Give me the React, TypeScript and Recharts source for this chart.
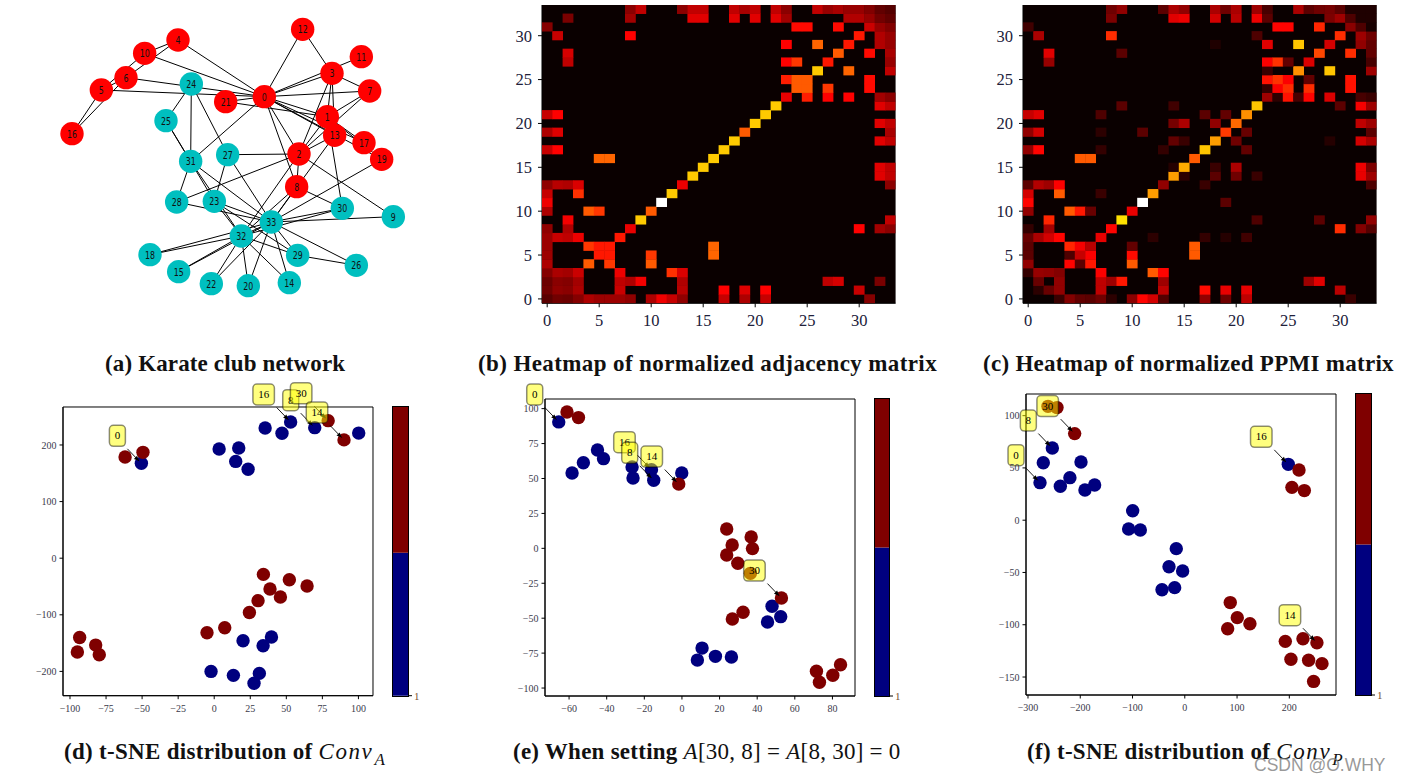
import React from "react";
import { ScatterChart, Scatter, BarChart, Bar, XAxis, YAxis, ReferenceArea } from "recharts";

const SERIF = "'Liberation Serif', serif";
const MAROON = "#7f0000";
const NAVY = "#00007f";

// ---- (a) karate club layout, node index = array index
const nodeX = [673, 862, 777, 876, 414, 184, 258, 989, 770, 1060, 314, 964, 788, 884, 748, 416, 96, 972, 330, 1025, 625, 557, 514, 523, 454, 378, 949, 563, 410, 773, 907, 452, 604, 694];
const nodeY = [290, 350, 462, 220, 120, 270, 233, 273, 560, 650, 160, 170, 88, 406, 848, 815, 401, 428, 764, 478, 857, 305, 851, 604, 252, 362, 796, 464, 606, 766, 625, 484, 708, 666];
const redNodes = [0, 1, 2, 3, 4, 5, 6, 7, 8, 10, 11, 12, 13, 16, 17, 19, 21];
const edgeList: [number, number][] = [
  [0, 1], [0, 2], [0, 3], [0, 4], [0, 5], [0, 6], [0, 7], [0, 8], [0, 10], [0, 11], [0, 12], [0, 13], [0, 17], [0, 19], [0, 21], [0, 31],
  [1, 2], [1, 3], [1, 7], [1, 13], [1, 17], [1, 19], [1, 21], [1, 30],
  [2, 3], [2, 7], [2, 8], [2, 9], [2, 13], [2, 27], [2, 28], [2, 32],
  [3, 7], [3, 12], [3, 13], [4, 6], [4, 10], [5, 6], [5, 10], [5, 16], [6, 16],
  [8, 30], [8, 32], [8, 33], [9, 33], [13, 33], [14, 32], [14, 33], [15, 32], [15, 33],
  [18, 32], [18, 33], [19, 33], [20, 32], [20, 33], [22, 32], [22, 33],
  [23, 25], [23, 27], [23, 29], [23, 32], [23, 33], [24, 25], [24, 27], [24, 31], [25, 31],
  [26, 29], [26, 33], [27, 33], [28, 31], [28, 33], [29, 32], [29, 33], [30, 32], [30, 33], [31, 32], [31, 33], [32, 33],
];

// ---- (b) normalized adjacency, one list per row: [column, value]
type Row = [number, number][];
const adjacencyRows: Row[] = [
  [[0, .118], [1, .153], [2, .146], [3, .183], [4, .243], [5, .217], [6, .217], [7, .217], [8, .198], [10, .243], [11, .343], [12, .28], [13, .198], [17, .28], [19, .243], [21, .28], [31, .183]],
  [[0, .153], [1, .2], [2, .191], [3, .239], [7, .283], [13, .258], [17, .365], [19, .316], [21, .365], [30, .283]],
  [[0, .146], [1, .191], [2, .182], [3, .228], [7, .27], [8, .246], [9, .348], [13, .246], [27, .27], [28, .302], [32, .167]],
  [[0, .183], [1, .239], [2, .228], [3, .286], [7, .338], [12, .436], [13, .309]],
  [[0, .243], [4, .5], [6, .447], [10, .5]],
  [[0, .217], [5, .4], [6, .4], [10, .447], [16, .516]],
  [[0, .217], [4, .447], [5, .4], [6, .4], [16, .516]],
  [[0, .217], [1, .283], [2, .27], [3, .338], [7, .4]],
  [[0, .198], [2, .246], [8, .333], [30, .365], [32, .226], [33, .192]],
  [[2, .348], [9, .667], [33, .272]],
  [[0, .243], [4, .5], [5, .447], [10, .5]],
  [[0, .343], [11, 1]],
  [[0, .28], [3, .436], [12, .667]],
  [[0, .198], [1, .258], [2, .246], [3, .309], [13, .333], [33, .192]],
  [[14, .667], [32, .32], [33, .272]],
  [[15, .667], [32, .32], [33, .272]],
  [[5, .516], [6, .516], [16, .667]],
  [[0, .28], [1, .365], [17, .667]],
  [[18, .667], [32, .32], [33, .272]],
  [[0, .243], [1, .316], [19, .5], [33, .236]],
  [[20, .667], [32, .32], [33, .272]],
  [[0, .28], [1, .365], [21, .667]],
  [[22, .667], [32, .32], [33, .272]],
  [[23, .333], [25, .408], [27, .365], [29, .365], [32, .226], [33, .192]],
  [[24, .5], [25, .5], [27, .447], [31, .378]],
  [[23, .408], [24, .5], [25, .5], [31, .378]],
  [[26, .667], [29, .516], [33, .272]],
  [[2, .27], [23, .365], [24, .447], [27, .4], [33, .211]],
  [[2, .302], [28, .5], [31, .378], [33, .236]],
  [[23, .365], [26, .516], [29, .4], [32, .248], [33, .211]],
  [[1, .283], [8, .365], [30, .4], [32, .248], [33, .211]],
  [[0, .183], [24, .378], [25, .378], [28, .378], [31, .286], [32, .21], [33, .178]],
  [[2, .167], [8, .226], [14, .32], [15, .32], [18, .32], [20, .32], [22, .32], [23, .226], [29, .248], [30, .248], [31, .21], [32, .154], [33, .131]],
  [[8, .192], [9, .272], [13, .192], [14, .272], [15, .272], [18, .272], [19, .236], [20, .272], [22, .272], [23, .192], [26, .272], [27, .211], [28, .236], [29, .211], [30, .211], [31, .178], [32, .131], [33, .111]],
];

// ---- (c) normalized PPMI
const ppmiRows: Row[] = [
  [[3, .07], [4, .18], [5, .13], [6, .12], [7, .15], [8, .05], [10, .19], [11, .37], [12, .3], [13, .11], [17, .2], [19, .15], [21, .27], [31, .07]],
  [[1, .05], [2, .14], [3, .2], [7, .27], [13, .27], [17, .38], [19, .33], [21, .33], [30, .26]],
  [[1, .14], [3, .2], [7, .27], [8, .22], [9, .4], [13, .22], [27, .22], [28, .32]],
  [[0, .06], [1, .21], [2, .2], [3, .18], [7, .36], [12, .5], [13, .37]],
  [[0, .2], [4, .37], [5, .12], [6, .4], [10, .5]],
  [[0, .12], [4, .1], [5, .28], [6, .36], [10, .38], [16, .5]],
  [[0, .12], [4, .42], [5, .35], [6, .26], [10, .13], [16, .5]],
  [[0, .14], [1, .24], [2, .3], [3, .37], [7, .33], [12, .05], [17, .06], [19, .04], [21, .08]],
  [[0, .06], [2, .23], [8, .37], [30, .43], [32, .18], [33, .11]],
  [[2, .42], [9, .7], [22, .1], [28, .12], [33, .2]],
  [[0, .2], [4, .5], [5, .4], [6, .14], [10, .33]],
  [[0, .37], [11, 1], [19, .12]],
  [[0, .3], [3, .5], [7, .07], [12, .6]],
  [[0, .12], [1, .25], [2, .22], [3, .36], [13, .2], [17, .07], [33, .1]],
  [[14, .6], [15, .05], [18, .12], [20, .15], [22, .07], [32, .33], [33, .22]],
  [[14, .04], [15, .62], [18, .07], [20, .24], [32, .34], [33, .17]],
  [[5, .5], [6, .5], [16, .5]],
  [[0, .2], [1, .37], [7, .06], [13, .06], [17, .66], [21, .13]],
  [[14, .13], [15, .07], [18, .6], [20, .15], [29, .04], [32, .3], [33, .24]],
  [[0, .2], [1, .3], [7, .05], [11, .12], [19, .45], [21, .14], [33, .12]],
  [[14, .16], [15, .24], [18, .2], [20, .52], [32, .27], [33, .22]],
  [[0, .28], [1, .32], [7, .1], [17, .12], [19, .13], [21, .58]],
  [[9, .12], [14, .08], [22, .66], [30, .12], [32, .35], [33, .22]],
  [[23, .22], [24, .05], [25, .39], [26, .09], [27, .37], [29, .31], [32, .09], [33, .07]],
  [[23, .06], [24, .36], [25, .43], [27, .43], [31, .39]],
  [[23, .39], [24, .44], [25, .36], [27, .13], [31, .39]],
  [[23, .07], [26, .58], [29, .66], [33, .22]],
  [[2, .21], [23, .36], [24, .44], [25, .13], [27, .31], [33, .09]],
  [[2, .32], [9, .12], [28, .47], [31, .43], [33, .13]],
  [[18, .03], [23, .32], [26, .66], [29, .3], [32, .2], [33, .13]],
  [[1, .24], [8, .43], [22, .1], [30, .43], [32, .22], [33, .15]],
  [[0, .08], [24, .37], [25, .37], [28, .42], [31, .19], [32, .1], [33, .02]],
  [[8, .17], [14, .32], [15, .34], [18, .3], [20, .26], [22, .34], [23, .12], [29, .17], [30, .22], [31, .1], [32, .03], [33, .03]],
  [[8, .15], [9, .2], [13, .12], [14, .24], [15, .2], [18, .24], [19, .15], [20, .24], [22, .22], [23, .09], [26, .24], [27, .12], [28, .15], [29, .16], [30, .12], [31, .03], [32, .03], [33, .03]],
];
const heatTicks = [0, 5, 10, 15, 20, 25, 30];

// ---- t-SNE scatter values
type Pt = [number, number];
type Note = [number, number, string];

const dMaroon: Pt[] = [[-61.8, 178.8], [-49.4, 187], [79, 243], [90, 209], [34.1, -28.6], [52.1, -38], [64.4, -49], [38.7, -54.5], [45.9, -68.6], [30.4, -75], [24.4, -96], [7.3, -122.8], [-5, -131.7], [-93.3, -140], [-82.2, -153.5], [-94.9, -165.8], [-79.7, -170.5]];
const dNavy: Pt[] = [[-50.5, 167.6], [3.4, 193], [17, 194.7], [14.9, 171], [23.5, 157], [35.3, 230], [47, 220.6], [53, 240.6], [69.7, 230.6], [100.2, 221], [20, -145.8], [39.7, -139.3], [33.9, -154.6], [-2.2, -200], [13.3, -207], [31.3, -203.5], [27.6, -221]];
const dNotes: Note[] = [[-50.5, 167.6, "0"], [53, 240.6, "16"], [69.7, 230.6, "8"], [79, 243, "30"], [90, 209, "14"]];
const dXTicks = [-100, -75, -50, -25, 0, 25, 50, 75, 100];
const dYTicks = [-200, -100, 0, 100, 200];

const eMaroon: Pt[] = [[-61.1, 97.6], [-55, 93.6], [-1.7, 46], [23.8, 13.8], [36.8, 8.1], [26.7, 2.4], [37.5, -.2], [23.8, -4.8], [29.7, -10.7], [36.4, -17.9], [52.9, -35.6], [32.5, -45.8], [26.8, -50.6], [71.5, -88], [84.3, -83.3], [80.2, -90.9], [73.1, -95.9]];
const eNavy: Pt[] = [[-65.5, 90.5], [-44.9, 70.4], [-41.7, 64.2], [-52.4, 61.3], [-58.4, 53.9], [-26.5, 58.2], [-26, 50.4], [-16.2, 56.3], [-15, 48.7], [-.1, 53.9], [47.9, -41.5], [52.5, -48.9], [45.5, -52.7], [10.7, -71.4], [8.2, -80], [17.8, -77.3], [26.3, -77.8]];
const eNotes: Note[] = [[-65.5, 90.5, "0"], [-16.2, 56.3, "16"], [-15, 48.7, "8"], [-1.7, 46, "14"], [52.9, -35.6, "30"]];
const eXTicks = [-60, -40, -20, 0, 20, 40, 60, 80];
const eYTicks = [-100, -75, -50, -25, 0, 25, 50, 75, 100];

const fMaroon: Pt[] = [[-261.7, 108.9], [-244.5, 107.7], [-210.7, 82.8], [218.5, 48], [205, 31.4], [228.7, 28.3], [87, -78.8], [100.4, -93.2], [124.6, -99], [82, -103.8], [192.3, -115.9], [226.1, -113.4], [252.8, -117.2], [203.1, -133], [236.9, -134], [262.5, -137.2], [246.4, -154.2]];
const fNavy: Pt[] = [[-253.4, 69], [-270.7, 55], [-277, 35.9], [-198.6, 55.7], [-219.8, 40.7], [-238.1, 32.4], [-191, 28.9], [-172.5, 33.7], [-99.7, 9.1], [-107.4, -8.4], [-85.1, -9.4], [-16.3, -27.2], [-30.2, -44.5], [-4.1, -48.6], [-43.6, -66.5], [-19.4, -64.5], [198, 53.4]];
const fNotes: Note[] = [[-277, 35.9, "0"], [-253.4, 69, "8"], [-210.7, 82.8, "30"], [198, 53.4, "16"], [252.8, -117.2, "14"]];
const fXTicks = [-300, -200, -100, 0, 100, 200];
const fYTicks = [-150, -100, -50, 0, 50, 100];

// matplotlib "hot"
function hot(v: number) {
  const c = (t: number) => Math.round(Math.max(0, Math.min(1, t)) * 255);
  return `rgb(${c(.0416 + (v / .365) * .9584)},${c((v - .365) / .381)},${c((v - .746) / .254)})`;
}

const minusFmt = (v: number) => String(v).replace("-", "\u2212");

function NetworkPanel() {
  const nodes = nodeX.map((x, i) => ({ x, y: nodeY[i], id: i }));
  return (
    <ScatterChart width={400} height={310} margin={{ top: 0, right: 0, bottom: 0, left: 0 }} style={{ position: "absolute", left: 40, top: 0 }}>
      <XAxis type="number" dataKey="x" domain={[0, 1200]} hide />
      <YAxis type="number" dataKey="y" domain={[0, 930]} reversed hide />
      {edgeList.map(([a, b]) => (
        <Scatter
          key={a + "-" + b}
          data={[nodes[a], nodes[b]]}
          line={{ stroke: "#000", strokeWidth: 1 }}
          shape={() => <g />}
          isAnimationActive={false}
        />
      ))}
      <Scatter
        data={nodes}
        isAnimationActive={false}
        shape={(p: any) => (
          <g>
            <circle cx={p.cx} cy={p.cy} r={11.7} fill={redNodes.includes(p.payload.id) ? "#ff0000" : "#00bfbf"} />
            <text
              x={p.cx}
              y={p.cy + 4}
              textAnchor="middle"
              fontSize={11}
              fontFamily="'DejaVu Sans'"
              fill="#111"
              textLength={p.payload.id > 9 ? 10 : 5}
              lengthAdjust="spacingAndGlyphs"
            >
              {p.payload.id}
            </text>
          </g>
        )}
      />
    </ScatterChart>
  );
}

function HeatPanel({ rows, plotLeft }: { rows: Row[]; plotLeft: number }) {
  const plotW = 353.6;
  const plotH = 298.3;
  const cw = plotW / 34;
  const ch = plotH / 34;
  const cells = rows.flatMap((row, r) => row.map(([c, v]) => ({ x: c, y: r, v })));
  return (
    <ScatterChart
      width={plotW + 50}
      height={plotH + 35}
      margin={{ top: 5, right: 10, bottom: 0, left: 0 }}
      style={{ position: "absolute", left: plotLeft - 40, top: 0 }}
    >
      <XAxis type="number" dataKey="x" domain={[-.5, 33.5]} allowDataOverflow ticks={heatTicks} interval={0} height={30} tickSize={4} tickMargin={7}
        tick={{ fontSize: 16.5, fontFamily: SERIF, fill: "#20203a" }} axisLine={{ stroke: "#000" }} tickLine={{ stroke: "#000" }} />
      <YAxis type="number" dataKey="y" domain={[-.5, 33.5]} allowDataOverflow ticks={heatTicks} interval={0} width={40} tickSize={4} tickMargin={6}
        tick={{ fontSize: 16.5, fontFamily: SERIF, fill: "#20203a" }} axisLine={{ stroke: "#000" }} tickLine={{ stroke: "#000" }} />
      <ReferenceArea x1={-.5} x2={33.5} y1={-.5} y2={33.5} fill="#0a0000" fillOpacity={1} stroke="none" />
      <Scatter
        data={cells}
        isAnimationActive={false}
        shape={(p: any) => <rect x={p.cx - cw / 2 - .2} y={p.cy - ch / 2 - .2} width={cw + .4} height={ch + .4} fill={hot(p.payload.v)} />}
      />
    </ScatterChart>
  );
}

function NoteShape(p: any) {
  const label = p.payload.label as string;
  const two = label.length > 1;
  const bw = two ? 21.5 : 16;
  const bh = 21;
  const bx = p.cx - 27 + (two ? 0 : 3);
  const by = p.cy - 27.5;
  const ex = p.cx - 2.3;
  const ey = p.cy - 2.3;
  return (
    <g>
      <line x1={p.cx - 14} y1={p.cy - 14.5} x2={ex} y2={ey} stroke="#000" strokeWidth={0.9} />
      <polygon points={`${ex},${ey} ${ex - 5.2},${ey - 2} ${ex - 2},${ey - 5.2}`} fill="#000" />
      <rect x={bx - bw / 2} y={by - bh / 2} width={bw} height={bh} rx={4} fill="#ffff00" fillOpacity={0.5} stroke="#000" strokeOpacity={0.45} strokeWidth={1.5} />
      <text x={bx} y={by + 3.5} textAnchor="middle" fontSize={11} fontFamily={SERIF} fill="#000">
        {label}
      </text>
    </g>
  );
}

const dot = (fill: string) => (p: any) => <circle cx={p.cx} cy={p.cy} r={6.7} fill={fill} />;

type TsneProps = {
  left: number; top: number; width: number; height: number;
  xDomain: [number, number]; yDomain: [number, number];
  xTicks: number[]; yTicks: number[];
  maroon: Pt[]; navy: Pt[]; notes: Note[];
};

function TsnePanel({ left, top, width, height, xDomain, yDomain, xTicks, yTicks, maroon, navy, notes }: TsneProps) {
  const mTop = 32;
  const axisStyle = { fontSize: 10, fontFamily: SERIF, fill: "#3a3a4a" };
  return (
    <ScatterChart
      width={width + 50}
      height={height + mTop + 25}
      margin={{ top: mTop, right: 10, bottom: 0, left: 0 }}
      style={{ position: "absolute", left: left - 40, top: top - mTop }}
    >
      <XAxis type="number" dataKey="x" domain={xDomain} ticks={xTicks} interval={0} height={25} tickSize={3.5} tickMargin={5.5}
        tickFormatter={minusFmt} tick={axisStyle} axisLine={{ stroke: "#000" }} tickLine={{ stroke: "#000" }} />
      <YAxis type="number" dataKey="y" domain={yDomain} ticks={yTicks} interval={0} width={40} tickSize={3.5} tickMargin={3}
        tickFormatter={minusFmt} tick={axisStyle} axisLine={{ stroke: "#000" }} tickLine={{ stroke: "#000" }} />
      <ReferenceArea x1={xDomain[0]} x2={xDomain[1]} y1={yDomain[0]} y2={yDomain[1]} fill="none" stroke="#000" strokeWidth={1} />
      <Scatter data={navy.map(([x, y]) => ({ x, y }))} shape={dot(NAVY)} isAnimationActive={false} />
      <Scatter data={maroon.map(([x, y]) => ({ x, y }))} shape={dot(MAROON)} isAnimationActive={false} />
      <Scatter data={notes.map(([x, y, label]) => ({ x, y, label }))} shape={NoteShape} isAnimationActive={false} />
    </ScatterChart>
  );
}

function Colorbar({ left, top, width, height, navyShare }: { left: number; top: number; width: number; height: number; navyShare: number }) {
  const data = [{ name: "bar", navy: navyShare, maroon: 1 - navyShare }];
  return (
    <div style={{ position: "absolute", left, top, width: width + 30, height: height + 10 }}>
      <BarChart width={width + 30} height={height + 10} data={data} barCategoryGap={0} margin={{ top: 0, right: 0, bottom: 10, left: 0 }}>
        <XAxis dataKey="name" hide />
        <YAxis orientation="right" type="number" domain={[0, 1]} ticks={[0]} tickFormatter={() => "1"} width={30} tickSize={4} tickMargin={2}
          tick={{ fontSize: 11, fontFamily: SERIF, fill: "#7a5230" }} axisLine={false} tickLine={{ stroke: "#000" }} />
        <Bar dataKey="navy" stackId="c" fill={NAVY} isAnimationActive={false} />
        <Bar dataKey="maroon" stackId="c" fill={MAROON} isAnimationActive={false} />
      </BarChart>
      <div style={{ position: "absolute", left: 0, top: 0, width, height, outline: "1px solid #000", pointerEvents: "none" }} />
    </div>
  );
}

function Caption({ left, top, spacing, children }: { left: number; top: number; spacing: number; children: React.ReactNode }) {
  return (
    <div style={{ position: "absolute", left, top, fontFamily: SERIF, fontWeight: 700, fontSize: 23, letterSpacing: spacing, lineHeight: "26px", whiteSpace: "nowrap", color: "#111" }}>
      {children}
    </div>
  );
}

const mathStyle: React.CSSProperties = { fontWeight: 400 };
const convStyle: React.CSSProperties = { fontWeight: 400, letterSpacing: 1.6 };
const subStyle: React.CSSProperties = { fontSize: 17, fontStyle: "italic", fontWeight: 400, lineHeight: 0, marginLeft: 1 };

export default function App() {
  return (
    <div style={{ position: "absolute", left: 0, top: 0, width: 1401, height: 782, background: "#fff", overflow: "hidden" }}>
      <NetworkPanel />
      <HeatPanel rows={adjacencyRows} plotLeft={542.3} />
      <HeatPanel rows={ppmiRows} plotLeft={1023.3} />

      <TsnePanel left={63.3} top={407.3} width={310} height={288.7} xDomain={[-104.85, 110.1]} yDomain={[-242.9, 267.1]} xTicks={dXTicks} yTicks={dYTicks} maroon={dMaroon} navy={dNavy} notes={dNotes} />
      <Colorbar left={392.5} top={407.3} width={15} height={288.7} navyShare={0.495} />

      <TsnePanel left={545.3} top={399.3} width={310} height={297} xDomain={[-72.8, 92]} yDomain={[-105.7, 106.9]} xTicks={eXTicks} yTicks={eYTicks} maroon={eMaroon} navy={eNavy} notes={eNotes} />
      <Colorbar left={874.5} top={399.3} width={14} height={297} navyShare={0.5} />

      <TsnePanel left={1026.3} top={394.3} width={310} height={301} xDomain={[-303.8, 289.3]} yDomain={[-167.2, 120.7]} xTicks={fXTicks} yTicks={fYTicks} maroon={fMaroon} navy={fNavy} notes={fNotes} />
      <Colorbar left={1355.5} top={394.3} width={15} height={301} navyShare={0.5} />

      <Caption left={105} top={351} spacing={0.14}>(a) Karate club network</Caption>
      <Caption left={478} top={351} spacing={0.39}>(b) Heatmap of normalized adjacency matrix</Caption>
      <Caption left={983} top={351} spacing={0.28}>(c) Heatmap of normalized PPMI matrix</Caption>
      <Caption left={64} top={739} spacing={0.3}>(d) t-SNE distribution of <i style={convStyle}>Conv</i><sub style={subStyle}>A</sub></Caption>
      <Caption left={513} top={739} spacing={0.25}>(e) When setting <span style={mathStyle}><i>A</i>[30, 8] = <i>A</i>[8, 30] = 0</span></Caption>
      <Caption left={1027} top={739} spacing={0.3}>(f) t-SNE distribution of <i style={convStyle}>Conv</i><sub style={subStyle}>P</sub></Caption>

      <div style={{ position: "absolute", left: 1254, top: 755, fontFamily: "'Liberation Sans'", fontSize: 17.5, color: "rgba(125,125,125,0.8)", whiteSpace: "nowrap" }}>
        CSDN @O.WHY
      </div>
    </div>
  );
}
